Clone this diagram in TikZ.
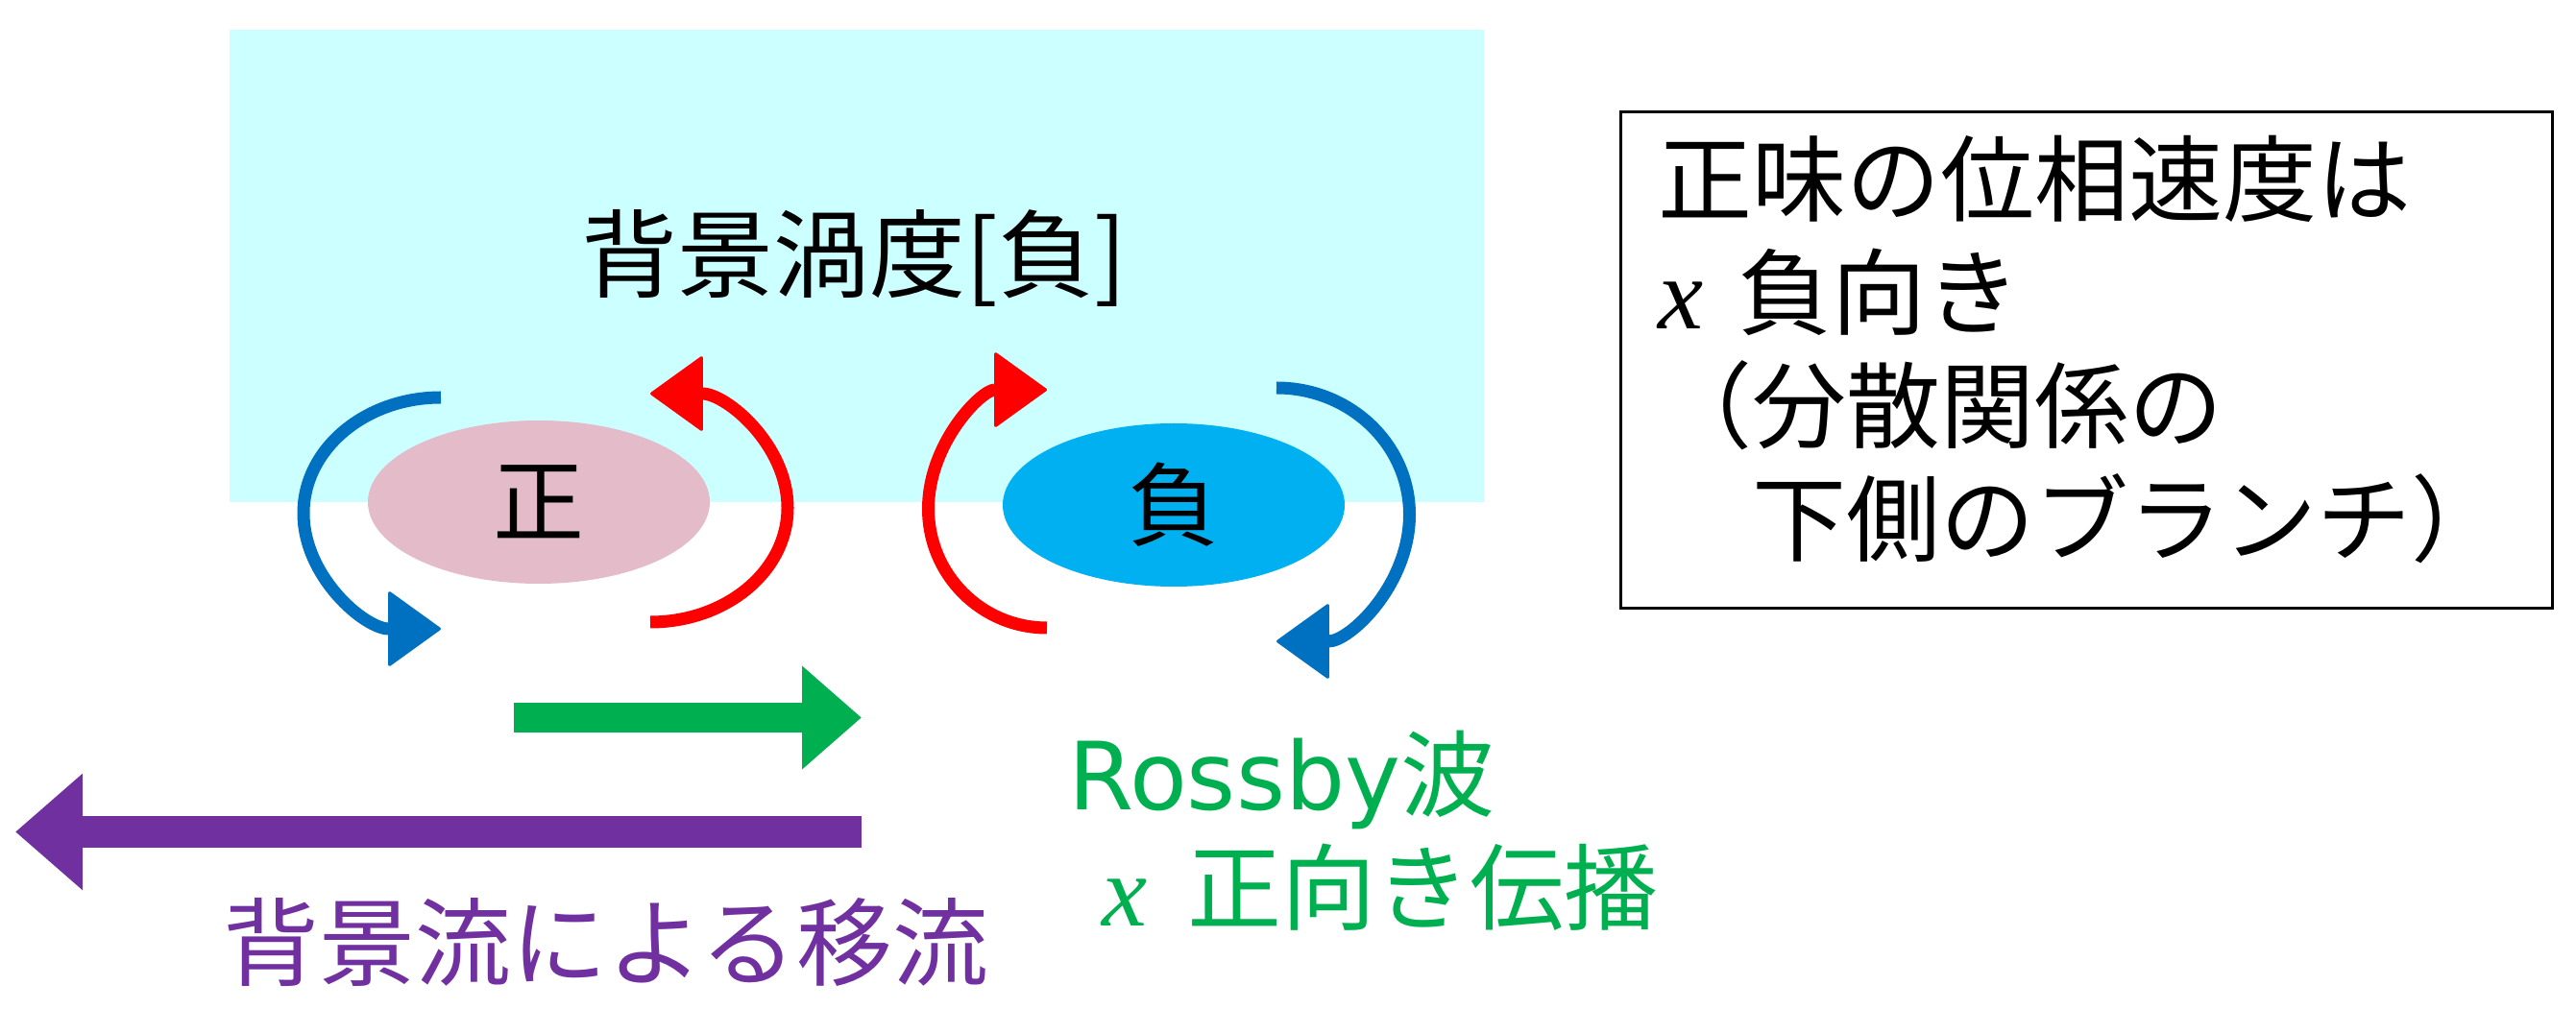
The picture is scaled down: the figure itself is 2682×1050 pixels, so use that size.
\documentclass[tikz,border=0pt]{standalone}
\usepackage{fontspec}
\newfontfamily\jp{Noto Sans CJK JP}
\newfontfamily\dejavu{DejaVu Sans}
\newfontfamily\xserif{Liberation Serif}
\usetikzlibrary{arrows.meta,shapes.geometric}
\definecolor{bgcyan}{HTML}{CCFFFF}
\definecolor{pospink}{HTML}{E4BCC9}
\definecolor{negblue}{HTML}{00B0F0}
\definecolor{arcblue}{HTML}{0070C0}
\definecolor{arcred}{HTML}{FF0000}
\definecolor{wavegreen}{HTML}{00B050}
\definecolor{flowpurple}{HTML}{7030A0}
\begin{document}
\begin{tikzpicture}[x=1pt,y=1pt,
  jpbig/.style={font=\jp\fontsize{100}{120}\selectfont, inner sep=0pt},
  jpbox/.style={font=\jp\fontsize{98}{118}\selectfont, inner sep=0pt, anchor=base west},
  xvar/.style={font=\xserif\itshape\fontsize{106}{120}\selectfont, inner sep=0pt, anchor=base west},
  vortex/.style={ellipse, minimum width=356pt, minimum height=170pt, inner sep=0pt,
    font=\jp\fontsize{95}{100}\selectfont},
  swirl/.style={line width=13pt, -{Triangle[length=56pt,width=80pt,line width=3pt,round]}},
]
\useasboundingbox (0,0) rectangle (2682,1050);
% background vorticity region
\fill[bgcyan] (239,527) rectangle (1545,1019);
\node[jpbig] (title) at (889,781) {背景渦度[負]};
% vortices
\node[vortex, fill=pospink] (pos) at (561,527) {正};
\node[vortex, fill=negblue] (neg) at (1222,524) {負};
% swirling arrows
\coordinate (pbs) at (459,636);
\coordinate (prs) at (677,402);
\coordinate (nrs) at (1090,396);
\coordinate (nbs) at (1329,646);
\draw[swirl, arcblue] (pbs) arc[start angle=90, end angle=270, x radius=143, y radius=120.5];
\draw[swirl, arcred] (prs) arc[start angle=-90, end angle=90, x radius=143, y radius=119];
\draw[swirl, arcred] (nrs) arc[start angle=270, end angle=90, x radius=123.5, y radius=124];
\draw[swirl, arcblue] (nbs) arc[start angle=90, end angle=-90, x radius=138.5, y radius=132];
% green propagation arrow
\coordinate (gs) at (535,302.5);
\coordinate (ge) at (897,302.5);
\draw[wavegreen, line width=31pt, -{Triangle[length=62pt,width=104pt]}] (gs) -- (ge);
% purple advection arrow
\coordinate (ps) at (897,183.5);
\coordinate (pe) at (16,183.5);
\draw[flowpurple, line width=33pt, -{Triangle[length=70pt,width=117pt]}] (ps) -- (pe);
% labels
\node[jpbig, text=flowpurple] (adv) at (630.5,69) {背景流による移流};
\node[jpbox, text=wavegreen] (ross) at (1112,207) {{\dejavu Rossby}波};
\node[xvar, text=wavegreen] (gx) at (1147,86) {x};
\node[jpbox, text=wavegreen] (gdir) at (1236,89) {正向き伝播};
% text box
\node[draw, line width=3pt, minimum width=970pt, minimum height=517pt, inner sep=0pt,
  anchor=south west] (box) at (1686,415) {};
\node[jpbox] (l1) at (1726,826) {正味の位相速度は};
\node[xvar] (l2x) at (1726,707) {x};
\node[jpbox] (l2) at (1809,708) {負向き};
\node[jpbox] (l3) at (1726,590) {（分散関係の};
\node[jpbox] (l4) at (1726,472) {　下側のブランチ）};
\end{tikzpicture}
\end{document}
